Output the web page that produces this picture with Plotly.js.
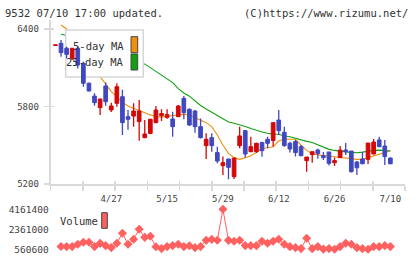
<!DOCTYPE html>
<html><head><meta charset="utf-8">
<script src="https://cdn.plot.ly/plotly-3.0.1.min.js"></script>
<style>html,body{margin:0;padding:0;background:#fff}#chart{width:420px;height:259px}</style>
</head><body><div id="chart"></div>
<script>
// ---- data (index -1 .. 59) ----
const openP  = [6272,6289,6251,6173,6251,6134,5980,5881,5791,5959,5773,5825,5876,5721,5726,5683,5559,5592,5675,5729,5716,5703,5721,5863,5778,5765,5644,5497,5559,5443,5342,5394,5257,5497,5613,5450,5450,5520,5546,5536,5695,5600,5515,5528,5489,5381,5427,5463,5419,5448,5365,5404,5463,5455,5370,5394,5391,5432,5541,5494,5401];
const highP  = [6278,6315,6263,6251,6265,6147,5985,5902,5860,5985,5830,5980,5930,5773,5825,5850,5695,5705,5804,5778,5778,5760,5812,5881,5786,5773,5708,5592,5592,5489,5412,5394,5401,5644,5618,5566,5520,5528,5566,5675,5773,5644,5528,5541,5502,5409,5450,5473,5448,5448,5406,5494,5517,5455,5378,5448,5517,5548,5566,5541,5406];
const lowP   = [6272,6186,6173,6160,6095,5953,5918,5805,5734,5805,5757,5799,5580,5620,5644,5535,5555,5585,5670,5688,5705,5566,5718,5701,5650,5597,5553,5394,5450,5360,5270,5236,5239,5476,5406,5448,5440,5411,5476,5489,5579,5489,5443,5412,5415,5295,5365,5396,5386,5344,5339,5404,5424,5290,5270,5352,5355,5430,5485,5347,5352];
const closeP = [6278,6217,6204,6251,6121,5980,5920,5830,5858,5837,5804,5953,5675,5701,5765,5765,5587,5701,5773,5745,5737,5644,5804,5752,5657,5644,5559,5546,5497,5378,5365,5329,5401,5572,5432,5489,5515,5458,5515,5675,5613,5497,5471,5443,5419,5409,5450,5435,5404,5360,5381,5463,5450,5295,5326,5357,5517,5525,5489,5412,5357];
// index 0 .. 59
const ma5  = [6431,6400,6345,6290,6220,6150,6090,6031,5975,5915,5876,5832,5804,5786,5770,5750,5735,5722,5718,5725,5729,5734,5739,5734,5713,5695,5675,5644,5579,5502,5437,5404,5391,5404,5419,5445,5476,5481,5489,5533,5548,5546,5546,5500,5460,5432,5424,5420,5417,5412,5407,5400,5395,5391,5391,5405,5419,5430,5442,5458];
const ma25 = [6359,6352,6341,6333,6320,6306,6292,6279,6262,6245,6230,6213,6196,6170,6150,6128,6101,6072,6045,6015,5985,5938,5905,5880,5840,5808,5780,5755,5730,5705,5680,5670,5660,5645,5630,5615,5603,5593,5586,5585,5572,5566,5552,5538,5530,5521,5505,5485,5468,5460,5452,5449,5445,5442,5447,5455,5460,5462,5458,5456];
const volume = [812300,798500,805200,1012400,1188600,1195300,803100,1096800,887400,712300,1104500,2001200,1008700,1462900,2361000,1638400,1733500,795600,621800,802400,892100,1015300,799800,886200,708900,801700,1368400,1457200,1372600,4161400,1366900,1283100,1371500,893800,887600,891200,1279400,1103200,1284600,1464100,1012800,798200,709400,623500,1548700,618200,803900,575300,622400,560600,804600,1098900,1013700,708200,619600,568900,801300,799400,889700,802600];
const dateLabels = ['4/27','5/15','5/29','6/12','6/26','7/10'];
const dateIdx    = [9,19,29,39,49,59];
const priceTicks = [5200,5800,6400];

// ---- layout geometry ----
const W=420,H=259, PL=50.7, PR=405, MT=20, MB=184, VT=209.3, VB=249.3;
const xRange=[-1.85,61.62];
const yRange=[5200, 5200+(MB-MT)*1200/155];
const vMin=Math.min(...volume), vMax=Math.max(...volume), vMid=(vMin+vMax)/2;
const px=x=>x/W, py=y=>1-y/H;
const xAt=p=>xRange[0]+(p-PL)/(PR-PL)*(xRange[1]-xRange[0]);
const yAt=p=>yRange[1]-(p-MT)/(MB-MT)*(yRange[1]-yRange[0]);

const days = openP.map((_,k)=>k-1);
const maDays = ma5.map((_,k)=>k);
const UP='#d40808', DN='#4048c0', MONO='DejaVu Sans Mono';
const hw=0.33;

function wicks(up){const x=[],y=[];days.forEach((d,k)=>{if((closeP[k]>=openP[k])===up){x.push(d,d,null);y.push(lowP[k],highP[k],null);}});
 return {type:'scatter',mode:'lines',x,y,line:{color:up?UP:DN,width:1.3},hoverinfo:'skip',showlegend:false};}
function bodies(up){const x=[],y=[];days.forEach((d,k)=>{if((closeP[k]>=openP[k])===up){const o=openP[k],c=closeP[k];x.push(d-hw,d+hw,d+hw,d-hw,d-hw,null);y.push(o,o,c,c,o,null);}});
 return {type:'scatter',mode:'lines',x,y,fill:'toself',fillcolor:up?UP:DN,line:{color:up?UP:DN,width:1},hoverinfo:'skip',showlegend:false};}

const bx0=xAt(65.7),bx1=xAt(143.3),by0=yAt(30),by1=yAt(77);
const traces=[
 {type:'scatter',mode:'lines',x:maDays,y:ma5,line:{color:'#f0900c',width:1.1},hoverinfo:'skip',showlegend:false},
 {type:'scatter',mode:'lines',x:maDays,y:ma25,line:{color:'#12a012',width:1.1},hoverinfo:'skip',showlegend:false},
 {type:'scatter',mode:'lines',x:[bx0,bx1,bx1,bx0,bx0],y:[by0,by0,by1,by1,by0],fill:'toself',fillcolor:'#ffffff',line:{color:'#d6d6d6',width:1.5},hoverinfo:'skip',showlegend:false},
 wicks(false),wicks(true),bodies(false),bodies(true),
 {type:'scatter',mode:'lines+markers',x:maDays,y:volume,xaxis:'x4',yaxis:'y4',cliponaxis:false,line:{color:'#ff6060',width:1},marker:{symbol:'diamond',size:7,color:'#ff6060'},hoverinfo:'skip',showlegend:false},
 {type:'scatter',x:[],y:[],xaxis:'x2',yaxis:'y',showlegend:false},
 {type:'scatter',x:[],y:[],xaxis:'x3',yaxis:'y',showlegend:false},
 {type:'scatter',x:[],y:[],xaxis:'x',yaxis:'y2',showlegend:false}
];

const AX='#d9d9d9';
const dtick=(xRange[1]-xRange[0])/11;
const layout={
 width:W,height:H,margin:{l:0,r:0,t:0,b:0},paper_bgcolor:'#fff',plot_bgcolor:'rgba(0,0,0,0)',showlegend:false,
 xaxis:{domain:[px(PL),px(PR)],range:xRange,anchor:'y',showline:true,linecolor:AX,linewidth:2,ticks:'outside',ticklen:5,tickwidth:1.5,tickcolor:AX,tickmode:'linear',tick0:xRange[0],dtick:dtick,showticklabels:false,showgrid:false,zeroline:false},
 xaxis2:{overlaying:'x',anchor:'y',range:xRange,ticks:'inside',ticklen:3,tickwidth:1.5,tickcolor:AX,tickmode:'linear',tick0:xRange[0],dtick:dtick,showticklabels:false,showline:false,showgrid:false,zeroline:false},
 xaxis3:{overlaying:'x',anchor:'y',range:xRange,ticks:'',tickmode:'array',tickvals:dateIdx,ticktext:dateLabels,tickfont:{family:MONO,size:9,color:'#444'},ticklabelstandoff:8,showline:false,showgrid:false,zeroline:false},
 yaxis:{domain:[py(MB),py(MT)],range:yRange,anchor:'x',showline:true,linecolor:AX,linewidth:2,ticks:'outside',ticklen:5,tickwidth:1.5,tickcolor:AX,tickmode:'array',tickvals:priceTicks,tickfont:{family:MONO,size:9,color:'#444'},ticklabelstandoff:3,showgrid:false,zeroline:false},
 yaxis2:{overlaying:'y',anchor:'x',range:yRange,ticks:'inside',ticklen:3,tickwidth:1.5,tickcolor:AX,tickmode:'array',tickvals:priceTicks,showticklabels:false,showline:false,showgrid:false,zeroline:false},
 xaxis4:{domain:[px(PL),px(PR)],range:xRange,anchor:'y4',visible:false},
 yaxis4:{domain:[py(VB),py(VT)],range:[vMin,vMax],anchor:'x4',tickmode:'array',tickvals:[vMin,vMid,vMax],ticktext:[vMin,vMid,vMax].map(v=>String(Math.round(v))),ticks:'',showline:false,showgrid:false,zeroline:false,tickfont:{family:MONO,size:9.5,color:'#444'},ticklabelstandoff:1},
 shapes:[
  {type:'rect',xref:'paper',yref:'paper',x0:px(131),x1:px(137.7),y0:py(52.7),y1:py(36.7),fillcolor:'#f0900c',line:{color:'#444',width:1},layer:'above'},
  {type:'rect',xref:'paper',yref:'paper',x0:px(131),x1:px(137.7),y0:py(70),y1:py(54),fillcolor:'#12a012',line:{color:'#444',width:1},layer:'above'},
  {type:'rect',xref:'paper',yref:'paper',x0:px(101.7),x1:px(107.3),y0:py(228.3),y1:py(212.7),fillcolor:'#ff6060',line:{color:'#444',width:1},layer:'above'}
 ],
 annotations:[
  {xref:'paper',yref:'paper',x:px(3),y:py(13),xanchor:'left',yanchor:'middle',text:'9532 07/10 17:00 updated.',showarrow:false,font:{family:MONO,size:10.5,color:'#333'}},
  {xref:'paper',yref:'paper',x:px(410),y:py(13),xanchor:'right',yanchor:'middle',text:'(C)https://www.rizumu.net/',showarrow:false,font:{family:MONO,size:10.5,color:'#333'}},
  {xref:'paper',yref:'paper',x:px(126),y:py(46),xanchor:'right',yanchor:'middle',text:'5-day MA',showarrow:false,font:{family:MONO,size:10.5,color:'#333'}},
  {xref:'paper',yref:'paper',x:px(126),y:py(62),xanchor:'right',yanchor:'middle',text:'25-day MA',showarrow:false,font:{family:MONO,size:10.5,color:'#333'}},
  {xref:'paper',yref:'paper',x:px(58),y:py(221),xanchor:'left',yanchor:'middle',text:'Volume',showarrow:false,font:{family:MONO,size:10.5,color:'#333'}}
 ]
};
Plotly.newPlot('chart',traces,layout,{displayModeBar:false,staticPlot:true});
</script></body></html>
